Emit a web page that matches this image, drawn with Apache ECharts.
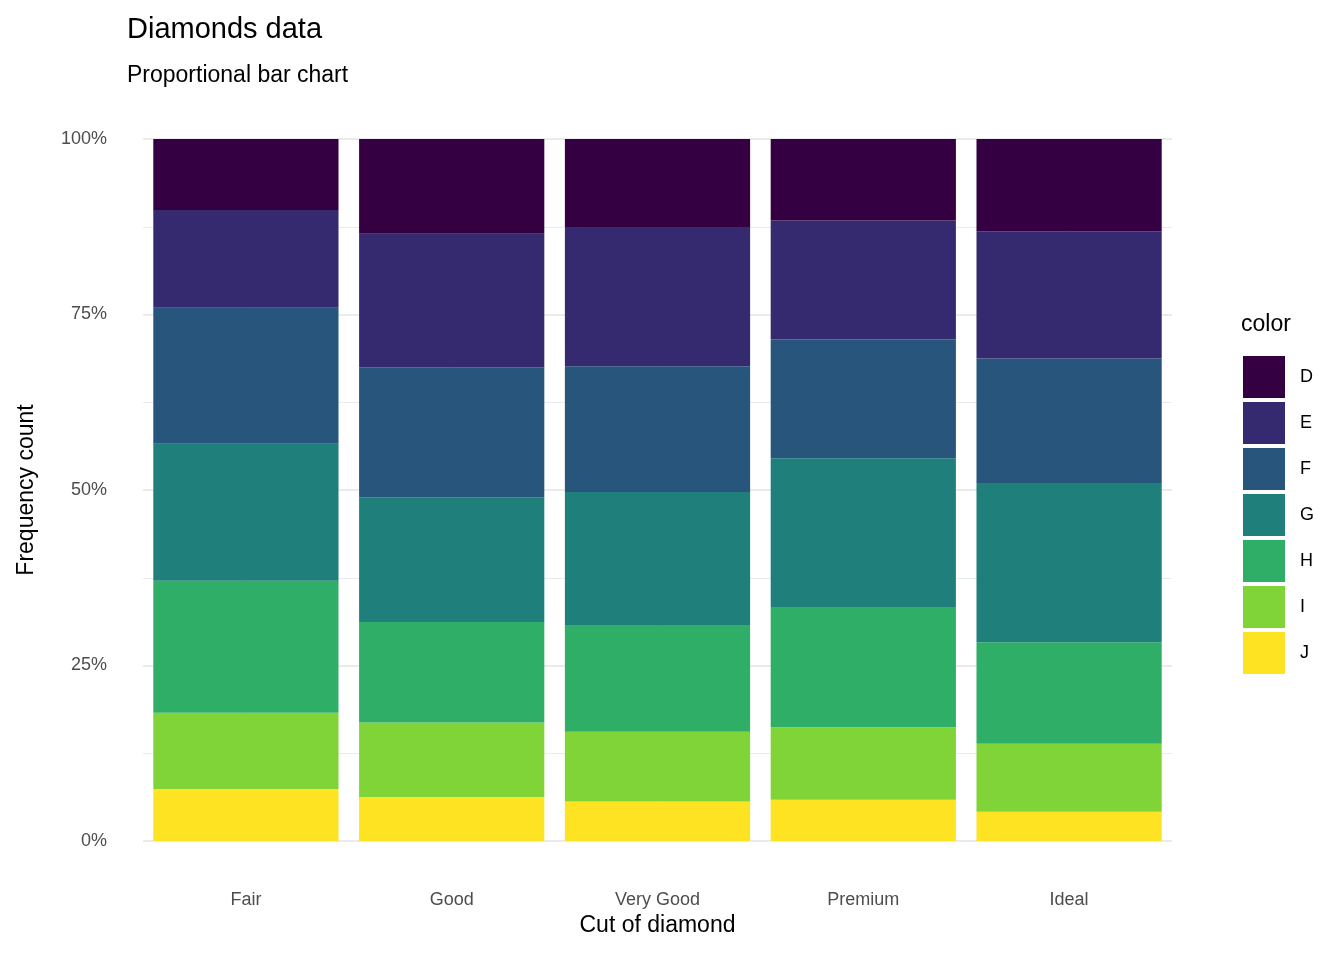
<!DOCTYPE html>
<html lang="en">
  <head>
    <meta charset="UTF-8" />
    <title>Diamonds data</title>
    <script src="https://cdn.jsdelivr.net/npm/echarts/dist/echarts.min.js"></script>
    <style>
      body { margin: 0; background: #fff; }
    </style>
  </head>
  <body>
    <div id="chart" style="width: 1344px; height: 960px"></div>
    <script>
      const cuts = ["Fair", "Good", "Very Good", "Premium", "Ideal"];
      const colorNames = ["D", "E", "F", "G", "H", "I", "J"];
      const fillColors = ["#340042", "#352a6f", "#27557c", "#1e7f7b", "#2fae68", "#80d438", "#fde321"];
      // counts per color, in cut order
      const countD = [163, 662, 1513, 1603, 2834];
      const countE = [224, 933, 2400, 2337, 3903];
      const countF = [312, 909, 2164, 2331, 3826];
      const countG = [314, 871, 2299, 2924, 4884];
      const countH = [303, 702, 1824, 2360, 3115];
      const countI = [175, 522, 1204, 1428, 2093];
      const countJ = [119, 307, 678, 808, 896];
      const yTicks = [0, 0.25, 0.5, 0.75, 1];

      const counts = [countD, countE, countF, countG, countH, countI, countJ];
      const totals = cuts.map((c, i) => counts.reduce((s, arr) => s + arr[i], 0));

      // stack J at the bottom, D at the top
      const series = [];
      for (let k = colorNames.length - 1; k >= 0; k--) {
        series.push({
          name: colorNames[k],
          type: "bar",
          stack: "all",
          barCategoryGap: "10%",
          itemStyle: { color: fillColors[k] },
          data: counts[k].map((v, i) => v / totals[i]),
        });
      }
      // vertical grid lines at category centres
      series[0].markLine = {
        silent: true,
        symbol: "none",
        label: { show: false },
        lineStyle: { color: "#ebebeb", width: 2, type: "solid" },
        z: 0,
        data: cuts.map((c) => ({ xAxis: c })),
      };

      const chart = echarts.init(document.getElementById("chart"));
      chart.setOption({
        animation: false,
        textStyle: { fontFamily: "Liberation Sans, Arial, sans-serif" },
        title: [
          { text: "Diamonds data", left: 122, top: 10, textStyle: { fontSize: 29, fontWeight: "normal", color: "#000" } },
          { text: "Proportional bar chart", left: 122, top: 59, textStyle: { fontSize: 23, fontWeight: "normal", color: "#000" } },
          { text: "color", left: 1236, top: 308, textStyle: { fontSize: 23, fontWeight: "normal", color: "#000" } },
        ],
        legend: {
          data: colorNames,
          orient: "vertical",
          left: 1238,
          top: 351,
          icon: "rect",
          itemWidth: 42,
          itemHeight: 42,
          itemGap: 4,
          textStyle: { fontSize: 18, color: "#000", padding: [0, 0, 0, 10] },
        },
        grid: { left: 143, right: 172, top: 139, bottom: 119 },
        xAxis: {
          type: "category",
          data: cuts,
          name: "Cut of diamond",
          nameLocation: "middle",
          nameGap: 62,
          nameTextStyle: { fontSize: 23, color: "#000" },
          axisLine: { show: false },
          axisTick: { show: false },
          axisLabel: { fontSize: 18, color: "#4d4d4d", margin: 50 },
          splitLine: { show: false },
        },
        yAxis: {
          type: "value",
          min: 0,
          max: 1,
          interval: 0.25,
          name: "Frequency count",
          nameLocation: "middle",
          nameGap: 105,
          nameTextStyle: { fontSize: 23, color: "#000" },
          axisLabel: {
            fontSize: 18,
            color: "#4d4d4d",
            margin: 36,
            formatter: (v) => (yTicks.includes(v) ? Math.round(v * 100) + "%" : ""),
          },
          splitLine: { lineStyle: { color: "#ebebeb", width: 2 } },
          minorTick: { show: false, splitNumber: 2 },
          minorSplitLine: { show: true, lineStyle: { color: "#ebebeb", width: 1 } },
        },
        series: series,
      });
    </script>
  </body>
</html>
